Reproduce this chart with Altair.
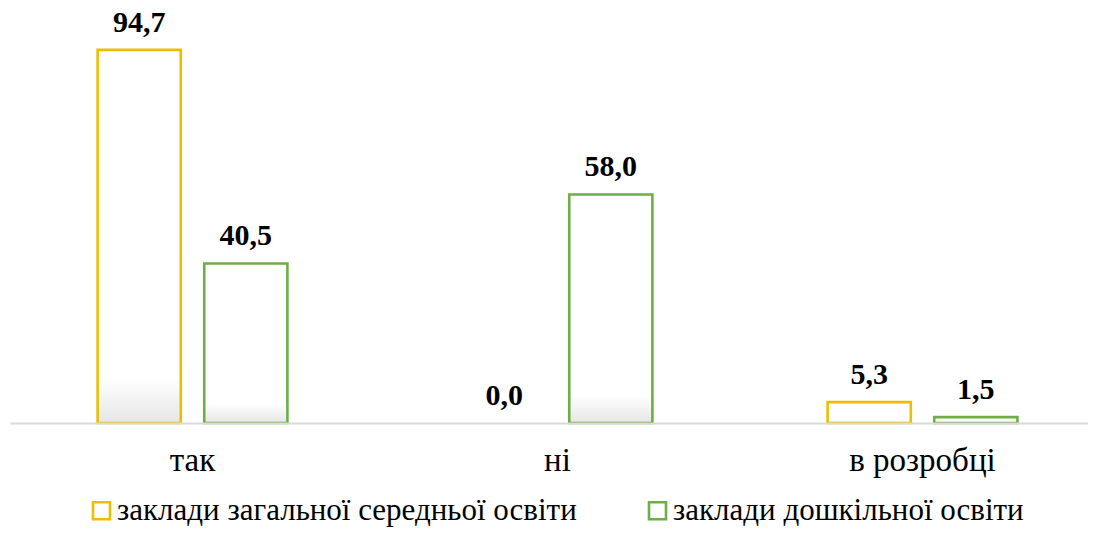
import altair as alt
import pandas as pd

categories = ["так", "ні", "в розробці"]
series = ["заклади загальної середньої  освіти", "заклади дошкільної освіти"]
values_secondary = [94.7, 0.0, 5.3]
values_preschool = [40.5, 58.0, 1.5]
colors = ["#EDBE00", "#70AD47"]

rows = []
for c, a, b in zip(categories, values_secondary, values_preschool):
    rows.append({"cat": c, "series": series[0], "value": a})
    rows.append({"cat": c, "series": series[1], "value": b})
df = pd.DataFrame(rows)
df["label"] = df["value"].map(lambda v: f"{v:.1f}".replace(".", ","))

FONT = "Liberation Serif"

x = alt.X(
    "cat:N",
    sort=categories,
    scale=alt.Scale(paddingInner=0.48, paddingOuter=0.24, range=[0, 1095]),
    axis=alt.Axis(
        title=None, labelAngle=0, ticks=False, grid=False,
        domainColor="#d9d9d9", domainWidth=2,
        labelFont=FONT, labelFontSize=33, labelColor="#000000",
        labelPadding=21, zindex=1,
    ),
)
xo = alt.XOffset("series:N", sort=series, scale=alt.Scale(paddingInner=0.22, paddingOuter=0))
y = alt.Y("value:Q", scale=alt.Scale(domain=[0, 100], nice=False), axis=None)

grad = alt.Gradient(
    gradient="linear",
    stops=[
        alt.GradientStop(color="#ffffff", offset=0),
        alt.GradientStop(color="#ffffff", offset=0.88),
        alt.GradientStop(color="#e6e6e6", offset=1),
    ],
    x1=0, x2=0, y1=0, y2=1,
)

bars = alt.Chart(df).mark_bar(fill=grad, strokeWidth=2.6).encode(
    x=x,
    xOffset=xo,
    y=y,
    stroke=alt.Stroke(
        "series:N",
        sort=series,
        scale=alt.Scale(domain=series, range=colors),
        legend=alt.Legend(
            title=None, orient="none", legendX=76, legendY=466,
            direction="horizontal", symbolType="square", symbolSize=289,
            symbolStrokeWidth=2.6, symbolFillColor="#eeeeee",
            labelFont=FONT, labelFontSize=31, labelColor="#000000",
            labelLimit=0, labelOffset=0, columnPadding=57,
        ),
    ),
    strokeOpacity=alt.condition(alt.datum.value > 0, alt.value(1), alt.value(0)),
)

labels = alt.Chart(df).mark_text(
    font=FONT, fontSize=30, fontWeight="bold", color="#000000",
    baseline="alphabetic", dy=-18,
).encode(x=x, xOffset=xo, y=y, text="label:N")

chart = (
    alt.layer(bars, labels)
    .properties(
        width=1078, height=394,
        autosize=alt.AutoSizeParams(type="none"),
        padding={"left": 2, "top": 21, "right": 0, "bottom": 106},
    )
    .configure_view(stroke=None)
)

chart.save("out.html", embed_options={"renderer": "svg", "actions": False})
